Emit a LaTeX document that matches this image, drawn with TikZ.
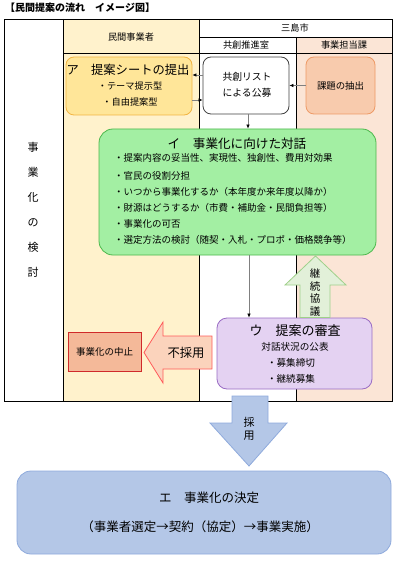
\documentclass[tikz,border=0pt]{standalone}
\usepackage{fontspec}
\setmainfont{Noto Sans CJK JP}
\usetikzlibrary{arrows.meta}
\definecolor{colY}{HTML}{FFF2CC}
\definecolor{colP}{HTML}{FBE5D6}
\definecolor{aFill}{HTML}{FFE699}
\definecolor{aDraw}{HTML}{F2B441}
\definecolor{kFill}{HTML}{F8CBAD}
\definecolor{kDraw}{HTML}{EE9A66}
\definecolor{gFill}{HTML}{A3EFA3}
\definecolor{gDraw}{HTML}{4DB84D}
\definecolor{gaFill}{HTML}{E2F0D9}
\definecolor{gaDraw}{HTML}{9FD08A}
\definecolor{uFill}{HTML}{E4D2F2}
\definecolor{uDraw}{HTML}{9A6CC4}
\definecolor{nFill}{HTML}{FBD3BC}
\definecolor{nDraw}{HTML}{FF5B5B}
\definecolor{sFill}{HTML}{F4B999}
\definecolor{sDraw}{HTML}{D02A2A}
\definecolor{bFill}{HTML}{B4C7E7}
\definecolor{bDraw}{HTML}{8FAADC}
\tikzset{
  fs/.style={font=\fontsize{#1}{#1}\selectfont},
  txt/.style={inner sep=0pt},
  box/.style={draw, line width=0.8pt, rounded corners=#1, inner sep=0pt},
  conn/.style={draw=gray, line width=0.6pt, -{Latex[black,length=4pt,width=3.5pt]}},
  frame/.style={line width=0.8pt, black},
  blockarrow/.style={line width=0.8pt, line join=miter}
}
\begin{document}
\begin{tikzpicture}[x=1pt,y=-1pt]
\useasboundingbox (0,0) rectangle (410,561);
% column backgrounds
\fill[colY] (63,19) rectangle (199,401);
\fill[colP] (296,37) rectangle (392,401);
% frame
\draw[frame] (4,19) rectangle (392,401);
\draw[frame] (63,19) -- (63,401);
\draw[frame] (199,19) -- (199,401);
\draw[frame] (296,37) -- (296,401);
\draw[frame] (199,37) -- (392,37);
\draw[frame] (63,53) -- (392,53);
% title and headers
\node[txt, fs=9.2, anchor=west, font=\bfseries] (title) at (5,8) {【民間提案の流れ　イメージ図】};
\node[txt, fs=9.2] (hMin) at (131,37) {民間事業者};
\node[txt, fs=9.2] (hMis) at (295,28) {三島市};
\node[txt, fs=9.2] (hKyo) at (246,45) {共創推進室};
\node[txt, fs=9.2] (hJig) at (344,45) {事業担当課};
\node[txt, align=center, font=\fontsize{11}{25}\selectfont] (left) at (33,210) {事\\業\\化\\の\\検\\討};
% boxes
\node[box=8pt, fill=aFill, draw=aDraw, minimum width=126pt, minimum height=58pt] (A) at (129,86) {};
\node[txt, fs=12.3] (Atitle) at (128,70) {ア　提案シートの提出};
\node[txt, fs=9.2] (A1) at (130,86) {・テーマ提示型};
\node[txt, fs=9.2] (A2) at (130,102) {・自由提案型};
\node[box=8pt, fill=white, draw=black!75, minimum width=86pt, minimum height=57pt] (L) at (246,85.5) {};
\node[txt, fs=9.8] (L1) at (247,77) {共創リスト};
\node[txt, fs=9.8] (L2) at (247,93) {による公募};
\node[box=8pt, fill=kFill, draw=kDraw, minimum width=69pt, minimum height=57pt, fs=9.4] (K) at (340.5,85.5) {課題の抽出};
\node[box=14pt, fill=gFill, draw=gDraw, minimum width=277pt, minimum height=126pt] (G) at (237.5,192) {};
\node[txt, fs=12.6] (Gt) at (237,144) {イ　事業化に向けた対話};
\node[txt, fs=9.5, anchor=west] (G1) at (114,158) {・提案内容の妥当性、実現性、独創性、費用対効果};
\node[txt, fs=9.5, anchor=west] (G2) at (114,176) {・官民の役割分担};
\node[txt, fs=9.5, anchor=west] (G3) at (114,192) {・いつから事業化するか（本年度か来年度以降か）};
\node[txt, fs=9.5, anchor=west] (G4) at (114,207.5) {・財源はどうするか（市費・補助金・民間負担等）};
\node[txt, fs=9.5, anchor=west] (G5) at (114,224) {・事業化の可否};
\node[txt, fs=9.5, anchor=west] (G6) at (114,240) {・選定方法の検討（随契・入札・プロポ・価格競争等）};
\node[box=10pt, fill=uFill, draw=uDraw, minimum width=155pt, minimum height=71pt] (U) at (294.5,353.5) {};
\node[txt, fs=13] (Ut) at (295,331) {ウ　提案の審査};
\node[txt, fs=9.6] (U1) at (295,347) {対話状況の公表};
\node[txt, fs=9.6] (U2) at (291,363) {・募集締切};
\node[txt, fs=9.6] (U3) at (291,379) {・継続募集};
\node[box=0pt, fill=sFill, draw=sDraw, minimum width=73pt, minimum height=39pt, fs=9.5] (S) at (104.5,351.5) {事業化の中止};
% connectors
\draw[conn] (K.west) -- (L.east);
\draw[conn] (L.west |- 0,75) -- (A.east |- 0,75);
\draw[conn] (A.east |- 0,100) -- (L.west |- 0,100);
\draw[conn] (248,0 |- L.south) -- (248,0 |- G.north);
\draw[conn] (249,0 |- G.south) -- (249,0 |- U.north);
% block arrows
\draw[blockarrow, fill=gaFill, draw=gaDraw] (315.5,256) -- (346,285) -- (330,285) -- (330,317.5) -- (300,317.5) -- (300,285) -- (285,285) -- cycle;
\node[txt, align=center, font=\fontsize{10.5}{12.4}\selectfont] (keizoku) at (315,292.5) {継\\続\\協\\議};
\draw[blockarrow, fill=nFill, draw=nDraw] (144,352.5) -- (163,322) -- (163,336) -- (212,336) -- (212,369) -- (163,369) -- (163,383) -- cycle;
\node[txt, fs=12.3] (fusaiyo) at (186,352.5) {不採用};
\draw[blockarrow, fill=bFill, draw=bDraw] (232,396) -- (268,396) -- (268,423) -- (287,423) -- (249,466) -- (210,423) -- (232,423) -- cycle;
\node[txt, align=center, font=\fontsize{11}{13}\selectfont] (saiyo) at (249,428.5) {採\\用};
% final box
\node[box=14pt, fill=bFill, draw=bDraw, minimum width=374pt, minimum height=83pt] (E) at (204,512.5) {};
\node[txt, fs=12.5] (Et) at (209,498) {エ　事業化の決定};
\node[txt, fs=12.5] (E1) at (200,527) {（事業者選定→契約（協定）→事業実施）};
\end{tikzpicture}
\end{document}
